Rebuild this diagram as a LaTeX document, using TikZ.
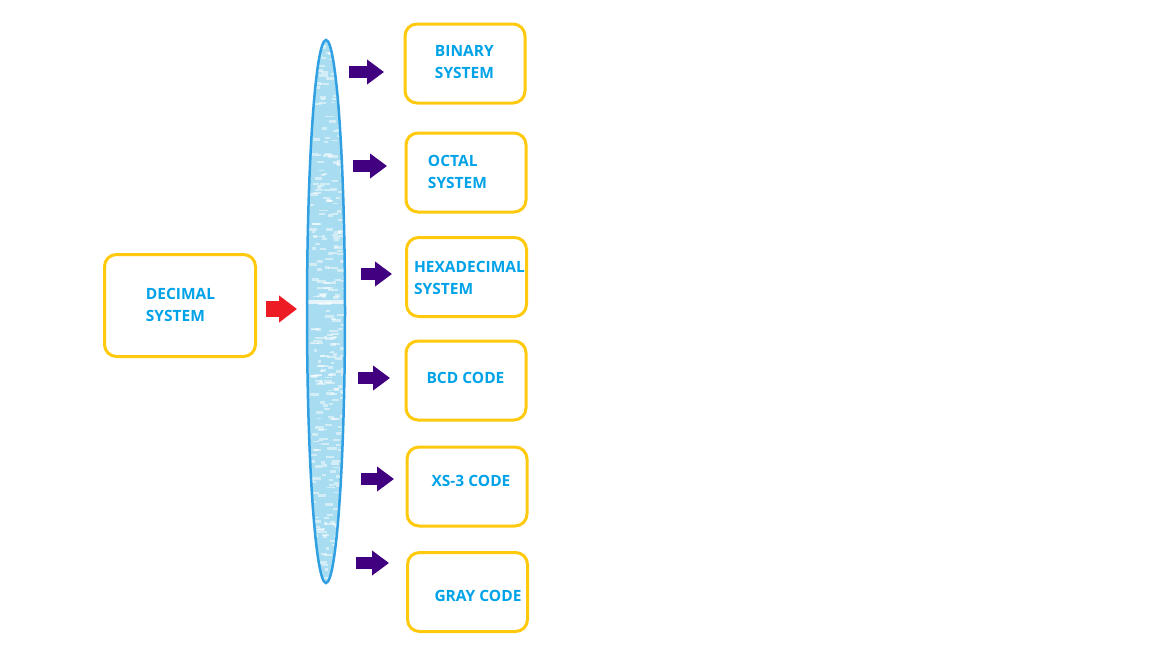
\documentclass[tikz,border=0pt]{standalone}
\usepackage{fontspec}
\setmainfont{Open Sans}
\usepackage{xcolor}
\usetikzlibrary{arrows.meta}

\definecolor{boxyellow}{RGB}{255,201,14}
\definecolor{txtblue}{RGB}{0,162,232}
\definecolor{arrowred}{RGB}{237,28,36}
\definecolor{arrowpurple}{RGB}{64,0,128}
\definecolor{barline}{RGB}{48,160,226}
\definecolor{barfill}{RGB}{168,220,240}

\tikzset{
  box/.style={draw=boxyellow, line width=3pt, rounded corners=12pt, fill=white,
    minimum width=120pt, minimum height=79pt, inner sep=0pt},
  txt/.style={text=txtblue, align=left, inner sep=0pt,
    font=\fontsize{15.5}{22}\selectfont\bfseries},
  purplearrow/.style={draw=arrowpurple, line width=12pt, line cap=butt,
    -{Triangle[width=24pt,length=17pt]}},
  redarrow/.style={draw=arrowred, line width=16pt, line cap=butt,
    -{Triangle[width=26pt,length=18pt]}}
}

\begin{document}
\begin{tikzpicture}[x=1pt,y=-1pt]
	\useasboundingbox (0,0) rectangle (1152,648);

	% boxes
	\node[box, minimum width=151pt, minimum height=102pt] (dec) at (180,305.5) {};
	\node[box] (bin) at (465,63.5) {};
	\node[box] (oct) at (466,172.5) {};
	\node[box] (hex) at (466.5,277) {};
	\node[box] (bcd) at (466,380.5) {};
	\node[box] (xsthree) at (467,486.5) {};
	\node[box] (gray) at (467.5,592) {};

	% texts
	\node[txt] (dec-t) at (180.5,305) {DECIMAL\\SYSTEM};
	\node[txt] (bin-t) at (464.5,62) {BINARY\\SYSTEM};
	\node[txt] (oct-t) at (457.5,172) {OCTAL\\SYSTEM};
	\node[txt] (hex-t) at (469.5,278) {HEXADECIMAL\\SYSTEM};
	\node[txt] (bcd-t) at (465.5,378) {BCD CODE};
	\node[txt] (xsthree-t) at (471,481) {XS-3 CODE};
	\node[txt] (gray-t) at (478,596) {GRAY CODE};

	% bar
	\begin{scope}
		\clip (326,311.5) ellipse (19 and 271.5);
		\fill[barfill] (300,35) rectangle (352,590);
		\pgfmathsetseed{7}
		\foreach \i in {1,...,320} {
			\fill[white, opacity=0.5] ({326+17*rand},{311+268*rand}) rectangle ++({3+7*rnd},{1.5+1.5*rnd});
		}
		\fill[white, opacity=0.7] (305,300) rectangle (348,304);
	\end{scope}
	\draw[barline, line width=2.5pt] (326,311.5) ellipse (19 and 271.5);

	% arrows
	\coordinate (r-s) at (266,309);
	\coordinate (r-e) at (297,309);
	\draw[redarrow] (r-s) -- (r-e);
	\foreach \n/\a/\b/\y in {bin/349/384/72, oct/353/387/166, hex/361/392/274,
			bcd/358/390/378, xsthree/361/394/479, gray/356/389/563} {
		\coordinate (\n-s) at (\a,\y);
		\coordinate (\n-e) at (\b,\y);
		\draw[purplearrow] (\n-s) -- (\n-e);
	}
\end{tikzpicture}
\end{document}
